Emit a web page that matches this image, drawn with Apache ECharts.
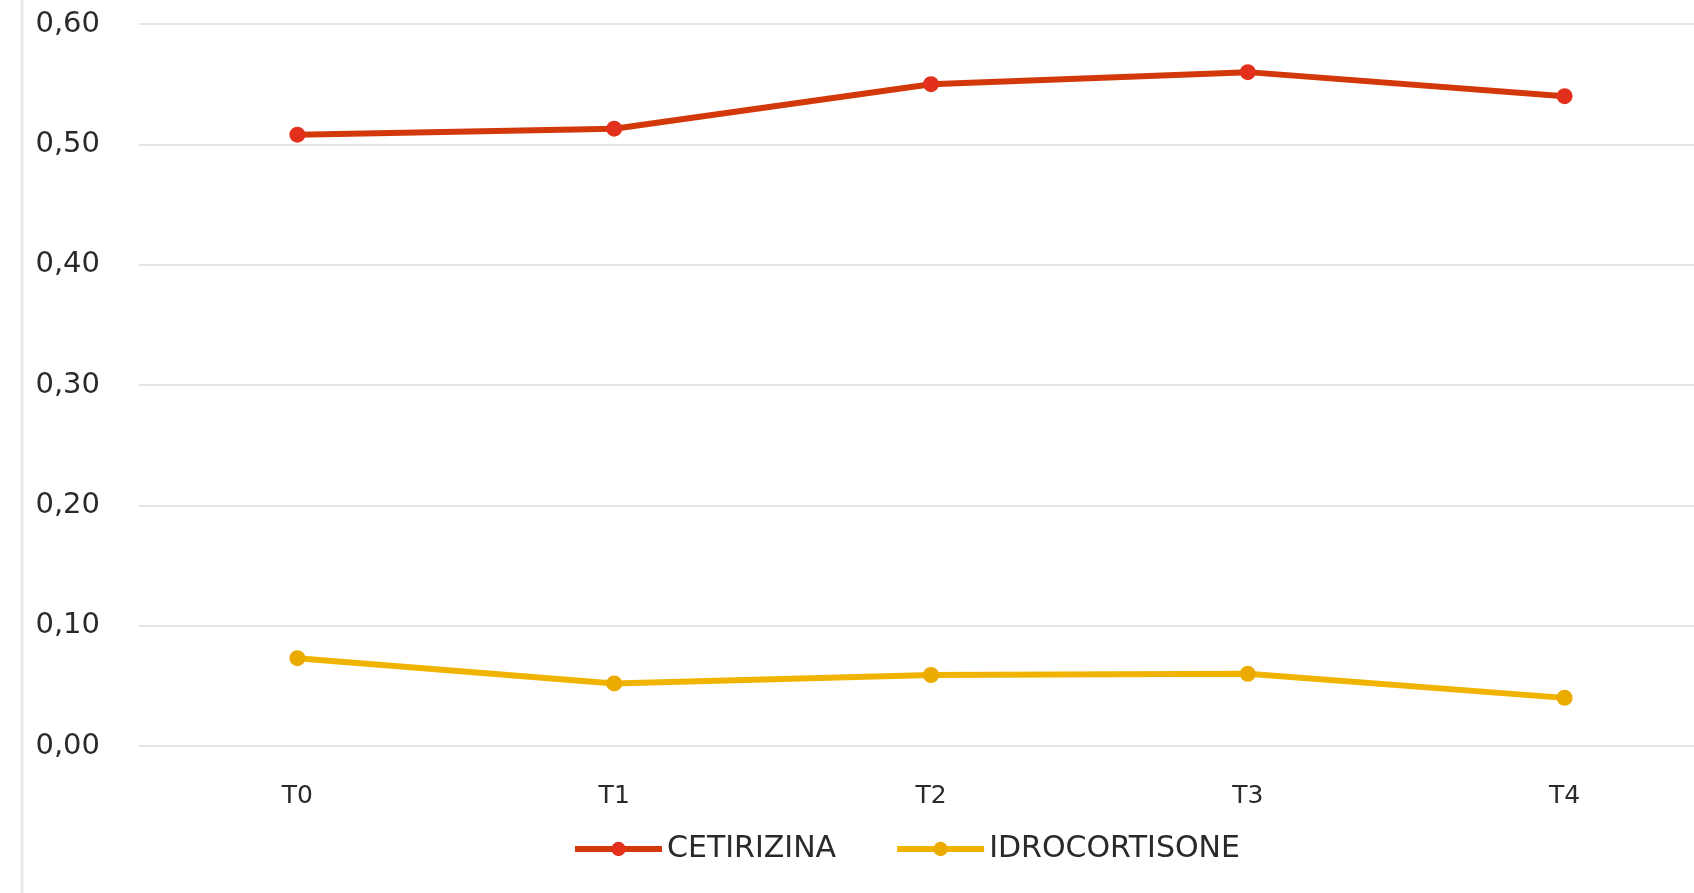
<!DOCTYPE html>
<html>
<head>
<meta charset="utf-8">
<script src="https://cdn.jsdelivr.net/npm/echarts@6/dist/echarts.min.js"></script>
<style>
  html, body { margin: 0; padding: 0; background: #fff; }
  #chart { width: 1694px; height: 893px; }
</style>
</head>
<body>
<div id="chart"></div>
<script>
// dati
const categories = ["T0", "T1", "T2", "T3", "T4"];
const cetirizina = [0.508, 0.513, 0.55, 0.56, 0.54];
const idrocortisone = [0.073, 0.052, 0.059, 0.06, 0.04];
const yTicks = [0, 0.1, 0.2, 0.3, 0.4, 0.5, 0.6];

const chart = echarts.init(document.getElementById("chart"));

const font = "'DejaVu Sans', Verdana, sans-serif";

chart.setOption({
  animation: false,
  backgroundColor: "#ffffff",
  grid: {
    left: 139,
    width: 1584,
    top: 24,
    height: 722,
    outerBoundsMode: "none",
    containLabel: false
  },
  legend: {
    data: ["CETIRIZINA", "IDROCORTISONE"],
    left: 567,
    top: 829,
    itemWidth: 87,
    itemHeight: 18,
    itemGap: 58,
    lineStyle: { width: 6 },
    textStyle: {
      color: "#2a2a2a",
      fontSize: 30,
      fontFamily: font
    }
  },
  xAxis: {
    type: "category",
    data: categories,
    boundaryGap: true,
    axisLine: { show: false },
    axisTick: { show: false },
    axisLabel: {
      color: "#2a2a2a",
      fontSize: 25,
      fontFamily: font,
      margin: 38
    }
  },
  yAxis: {
    type: "value",
    min: yTicks[0],
    max: yTicks[yTicks.length - 1],
    interval: 0.1,
    axisLine: { show: false },
    axisTick: { show: false },
    axisLabel: {
      color: "#2a2a2a",
      fontSize: 29,
      fontFamily: font,
      margin: 39,
      formatter: v => v.toFixed(2).replace(".", ",")
    },
    splitLine: {
      lineStyle: { color: "#e4e4e4", width: 2 }
    }
  },
  graphic: [
    {
      type: "line",
      shape: { x1: 22, y1: 0, x2: 22, y2: 893 },
      style: { stroke: "#e8e8e8", lineWidth: 3 }
    }
  ],
  series: [
    {
      name: "CETIRIZINA",
      type: "line",
      data: cetirizina,
      symbol: "circle",
      symbolSize: 16,
      lineStyle: { color: "#d2380a", width: 6 },
      itemStyle: { color: "#e3301c" }
    },
    {
      name: "IDROCORTISONE",
      type: "line",
      data: idrocortisone,
      symbol: "circle",
      symbolSize: 16,
      lineStyle: { color: "#f0b400", width: 6 },
      itemStyle: { color: "#eaaa00" }
    }
  ]
});
</script>
</body>
</html>
